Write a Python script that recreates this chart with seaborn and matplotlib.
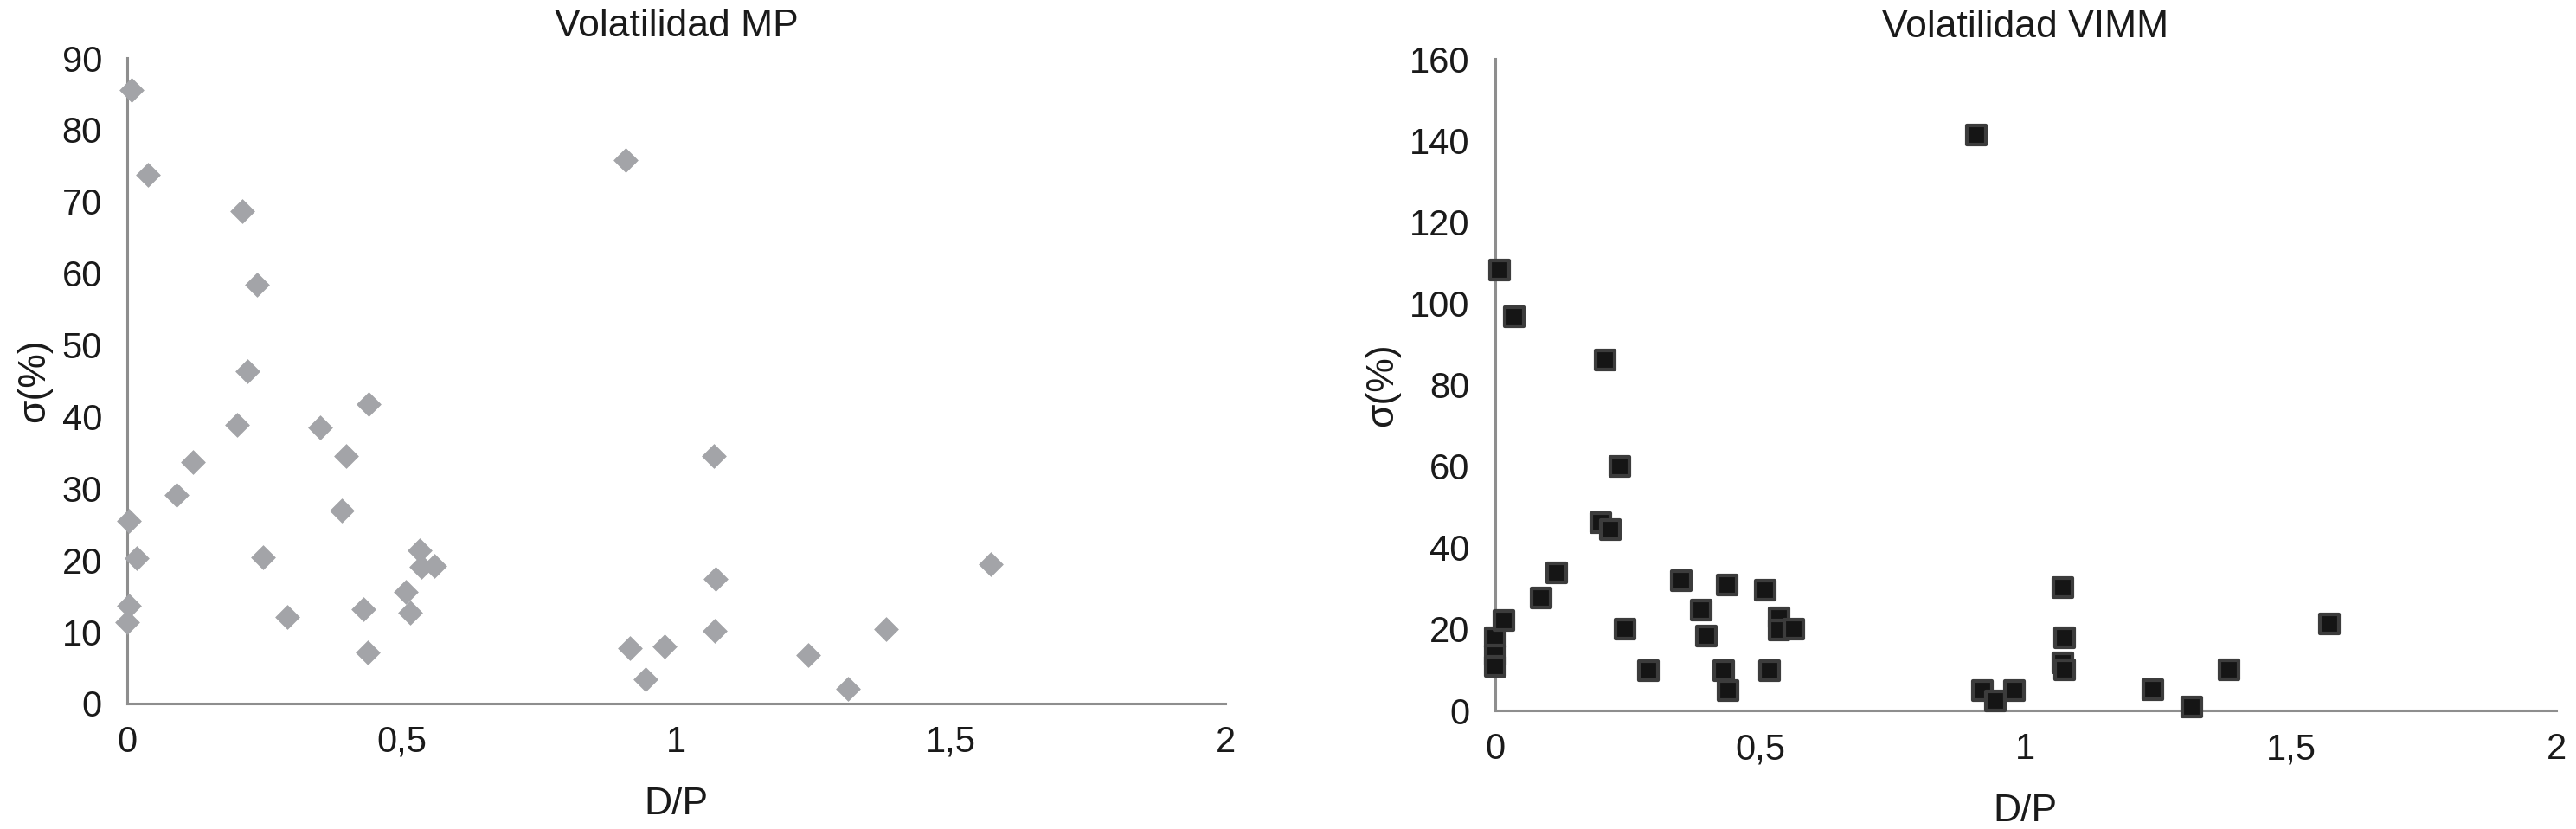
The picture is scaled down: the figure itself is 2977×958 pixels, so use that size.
#!/usr/bin/env python3
"""
Volatility vs D/P scatter panels (MP and VIMM).

Outputs:
  - out.png
"""

import matplotlib
matplotlib.use("Agg")
import matplotlib.pyplot as plt
import pandas as pd
import seaborn as sns
from matplotlib.ticker import FuncFormatter, MultipleLocator

# Volatilidad MP panel
DP_MP = [0.003, 0.007, 0.000, 0.003, 0.018, 0.038, 0.090, 0.119, 0.200, 0.210,
         0.219, 0.237, 0.248, 0.292, 0.351, 0.391, 0.399, 0.439, 0.430, 0.438,
         0.508, 0.516, 0.532, 0.535, 0.560, 0.907, 0.916, 0.944, 0.978, 1.068,
         1.072, 1.070, 1.240, 1.312, 1.382, 1.573]
VOL_MP = [25.4, 85.5, 11.3, 13.6, 20.3, 73.7, 29.1, 33.7, 38.8, 68.7,
          46.3, 58.4, 20.4, 12.1, 38.5, 26.9, 34.5, 41.8, 13.1, 7.1,
          15.5, 12.7, 21.3, 19.0, 19.2, 75.8, 7.7, 3.4, 8.0, 34.5,
          17.4, 10.1, 6.7, 2.1, 10.4, 19.4]

# Volatilidad VIMM panel
DP_VIMM = [0.001, 0.001, 0.001, 0.009, 0.017, 0.037, 0.087, 0.116, 0.200, 0.208,
           0.218, 0.235, 0.246, 0.290, 0.352, 0.389, 0.398, 0.438, 0.431, 0.439,
           0.510, 0.518, 0.535, 0.535, 0.564, 0.908, 0.918, 0.944, 0.979, 1.070,
           1.073, 1.070, 1.073, 1.240, 1.314, 1.384, 1.573]
VOL_VIMM = [17.8, 13.6, 10.9, 108.2, 22.2, 96.8, 27.6, 33.8, 46.2, 86.1,
            44.5, 59.9, 20.0, 9.8, 31.8, 24.7, 18.3, 30.8, 9.8, 4.8,
            29.5, 9.8, 22.8, 19.7, 20.0, 141.3, 4.8, 2.3, 4.8, 30.2,
            17.9, 11.6, 9.9, 5.0, 0.9, 9.9, 21.3]

TITLES = ["Volatilidad MP", "Volatilidad VIMM"]
Y_MAX = [90, 160]
Y_STEP = [10, 20]

AXIS_GREY = "#8e8e8e"
TEXT_COLOR = "#1a1a1a"


def comma_fmt(v, _pos):
    s = f"{v:g}"
    return s.replace(".", ",")


def style_axes(ax, ymax, ystep):
    ax.set_xlim(0, 2)
    ax.set_ylim(0, ymax)
    ax.xaxis.set_major_locator(MultipleLocator(0.5))
    ax.yaxis.set_major_locator(MultipleLocator(ystep))
    ax.xaxis.set_major_formatter(FuncFormatter(comma_fmt))
    for side in ("top", "right"):
        ax.spines[side].set_visible(False)
    for side in ("left", "bottom"):
        ax.spines[side].set_color(AXIS_GREY)
        ax.spines[side].set_linewidth(2.2)
    ax.tick_params(axis="both", which="major", direction="out", length=7,
                   width=2.2, color=AXIS_GREY, labelcolor=TEXT_COLOR,
                   labelsize=30, pad=11)
    ax.tick_params(axis="y", pad=14)
    ax.set_xlabel("D/P", fontsize=32, color=TEXT_COLOR, labelpad=22)
    ax.set_ylabel("σ(%)", fontsize=32, color=TEXT_COLOR, labelpad=8)


def main():
    sns.set_theme(style="white")
    plt.rcParams["font.family"] = ["Liberation Sans", "DejaVu Sans"]

    df_mp = pd.DataFrame({"D/P": DP_MP, "vol": VOL_MP})
    df_vimm = pd.DataFrame({"D/P": DP_VIMM, "vol": VOL_VIMM})

    fig = plt.figure(figsize=(29.77, 9.58), dpi=100)
    ax1 = fig.add_axes([0.0494, 0.1514, 0.4263, 0.7786])
    ax2 = fig.add_axes([0.5803, 0.1430, 0.4120, 0.7855])

    sns.scatterplot(data=df_mp, x="D/P", y="vol", ax=ax1, marker="D", s=200,
                    color="#a3a4a8", edgecolor="#a3a4a8", linewidth=0.5,
                    clip_on=False, zorder=3)
    sns.scatterplot(data=df_vimm, x="D/P", y="vol", ax=ax2, marker="s", s=250,
                    color="#151515", edgecolor="#3c3c3c", linewidth=3.0,
                    clip_on=False, zorder=3)

    for ax, title, ymax, ystep in zip((ax1, ax2), TITLES, Y_MAX, Y_STEP):
        style_axes(ax, ymax, ystep)
        ax.set_title(title, fontsize=32, color=TEXT_COLOR, pad=18)

    fig.savefig("out.png", dpi=100)
    plt.close(fig)


if __name__ == "__main__":
    main()
